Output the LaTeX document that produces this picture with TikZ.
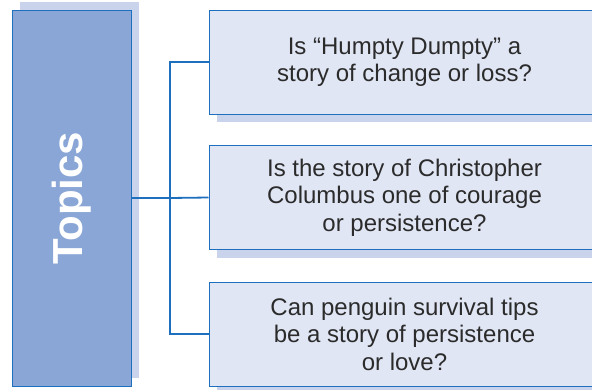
\documentclass[tikz,border=0pt]{standalone}
\usepackage{fontspec}
\setmainfont{Liberation Sans}
\usepackage{graphicx}
\usetikzlibrary{shadows}
\definecolor{linkblue}{HTML}{1F6FBF}
\definecolor{topicfill}{HTML}{8AA6D6}
\definecolor{shadowblue}{HTML}{C9D4EC}
\definecolor{qfill}{HTML}{E0E6F4}
\definecolor{textgray}{HTML}{2B2B2B}

\tikzset{
  topicbox/.style={draw=linkblue, line width=1pt, fill=topicfill, inner sep=0pt,
    minimum width=119pt, minimum height=376pt, text=white,
    font=\fontsize{42}{48}\selectfont\bfseries,
    copy shadow={shadow xshift=8pt, shadow yshift=8pt, draw=none, fill=shadowblue}},
  qbox/.style={draw=linkblue, line width=1pt, fill=qfill, inner sep=0pt,
    minimum width=391pt, minimum height=104pt, align=center, text=textgray,
    font=\fontsize{24}{27.5}\selectfont,
    copy shadow={shadow xshift=8pt, shadow yshift=-8pt, draw=none, fill=shadowblue}},
  link/.style={linkblue, line width=1.8pt}
}

\begin{document}
\begin{tikzpicture}[x=1pt,y=-1pt]

  \clip (0,0) rectangle (592,389);

  % Topics (big box on the left)
  \node[topicbox] (topics) at (71.5,198) {\rotatebox{90}{Topics}};

  % question boxes
  \node[qbox] (q1) at (404.5,62) {Is “Humpty Dumpty” a\\story of change or loss?};
  \node[qbox] (q2) at (404.5,197.5) {Is the story of Christopher\\Columbus one of courage\\or persistence?};
  \node[qbox] (q3) at (404.5,334) {Can penguin survival tips\\be a story of persistence\\or love?};

  % connectors
  \coordinate (fork) at (170,198);
  \draw[link] (topics.east) -- (fork);
  \draw[link] (fork) |- (q1.west);
  \draw[link] (fork) -- (q2.west);
  \draw[link] (fork) |- (q3.west);

\end{tikzpicture}
\end{document}
